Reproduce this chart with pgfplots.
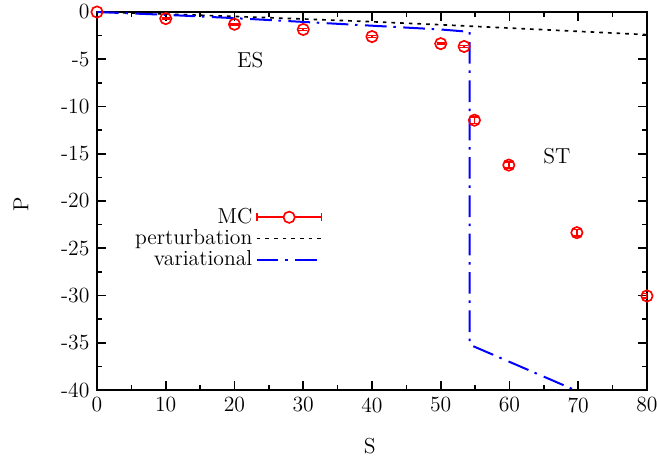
\documentclass[border=0pt]{standalone}
\usepackage{pgfplots}
\pgfplotsset{compat=1.18}
\begin{document}
\fontsize{13}{15}\selectfont
\begin{tikzpicture}
\begin{axis}[
  scale only axis,
  width=330pt, height=226.8pt,
  xmin=0, xmax=80, ymin=-40, ymax=0,
  xtick={0,10,...,80}, ytick={-40,-35,...,0},
  xticklabels={0,10,20,30,40,50,60,70,80},
  yticklabels={-40,-35,-30,-25,-20,-15,-10,-5,0},
  minor x tick num=1, minor y tick num=1,
  tick align=inside,
  major tick length=5.4pt, minor tick length=3pt,
  every tick/.style={black, line width=1pt},
  axis line style={line width=1.2pt},
  tick label style={font=\fontsize{13}{15}\selectfont},
  label style={font=\fontsize{13}{15}\selectfont},
  xlabel={S}, ylabel={P},
  xlabel style={at={(axis description cs:0.496,-0.148)}, anchor=center},
  ylabel style={at={(axis description cs:-0.138,0.492)}, anchor=center},
  legend style={at={(0.42,0.5)}, anchor=north east, draw=none, fill=none,
    legend cell align=right, font=\fontsize{13}{15}\selectfont,
    row sep=-2.2pt},
  legend plot pos=right,
]
\addplot[red, line width=1pt, mark=o, mark size=3.4pt, only marks,
  error bars/.cd, y dir=both, y explicit,
  error bar style={line width=1pt, red}, error mark options={rotate=90, mark size=2.5pt, line width=1pt, red},
  /pgfplots/legend image code/.code={
    \draw[red, line width=1pt] (0cm,0cm) -- (1.37cm,0cm);
    \draw[red, line width=1pt] (0cm,-2.5pt) -- (0cm,2.5pt) (1.37cm,-2.5pt) -- (1.37cm,2.5pt);
    \draw[red, line width=1pt, fill=white] (0.685cm,0cm) circle (3.4pt);
  }]
  coordinates {
  (0,0) +- (0,0.05)
  (10,-0.7) +- (0,0.1)
  (20,-1.3) +- (0,0.1)
  (30,-1.85) +- (0,0.1)
  (40,-2.6) +- (0,0.1)
  (50,-3.35) +- (0,0.1)
  (53.4,-3.65) +- (0,0.1)
  (54.9,-11.45) +- (0,0.35)
  (59.9,-16.2) +- (0,0.3)
  (69.8,-23.35) +- (0,0.35)
  (80,-30.05) +- (0,0.25)
  };
\addlegendentry{MC}
\addplot[black, line width=1pt, dash pattern=on 2.2pt off 3pt,
  /pgfplots/legend image code/.code={\draw (0cm,0cm) -- (1.37cm,0cm);}]
  coordinates {(0,0) (10,-0.22) (20,-0.47) (30,-0.74) (40,-1.03) (50,-1.35) (60,-1.7) (70,-2.05) (80,-2.4)};
\addlegendentry{perturbation}
\addplot[blue, line width=1.2pt, dash pattern=on 13pt off 4pt on 1.5pt off 4.5pt,
  /pgfplots/legend image code/.code={\draw (0cm,0cm) -- (1.37cm,0cm);}]
  coordinates {(0,0) (10,-0.3) (20,-0.65) (30,-1.05) (40,-1.45) (50,-1.85) (54.2,-2.1) (54.2,-35.2) (80,-43.3)};
\addlegendentry{variational}
\node at (axis cs:22.3,-5.1) {ES};
\node at (axis cs:66.9,-15.3) {ST};
\end{axis}
\pgfresetboundingbox
\useasboundingbox (-58.2pt,-43.2pt) rectangle (336pt,234pt);
\end{tikzpicture}
\end{document}
